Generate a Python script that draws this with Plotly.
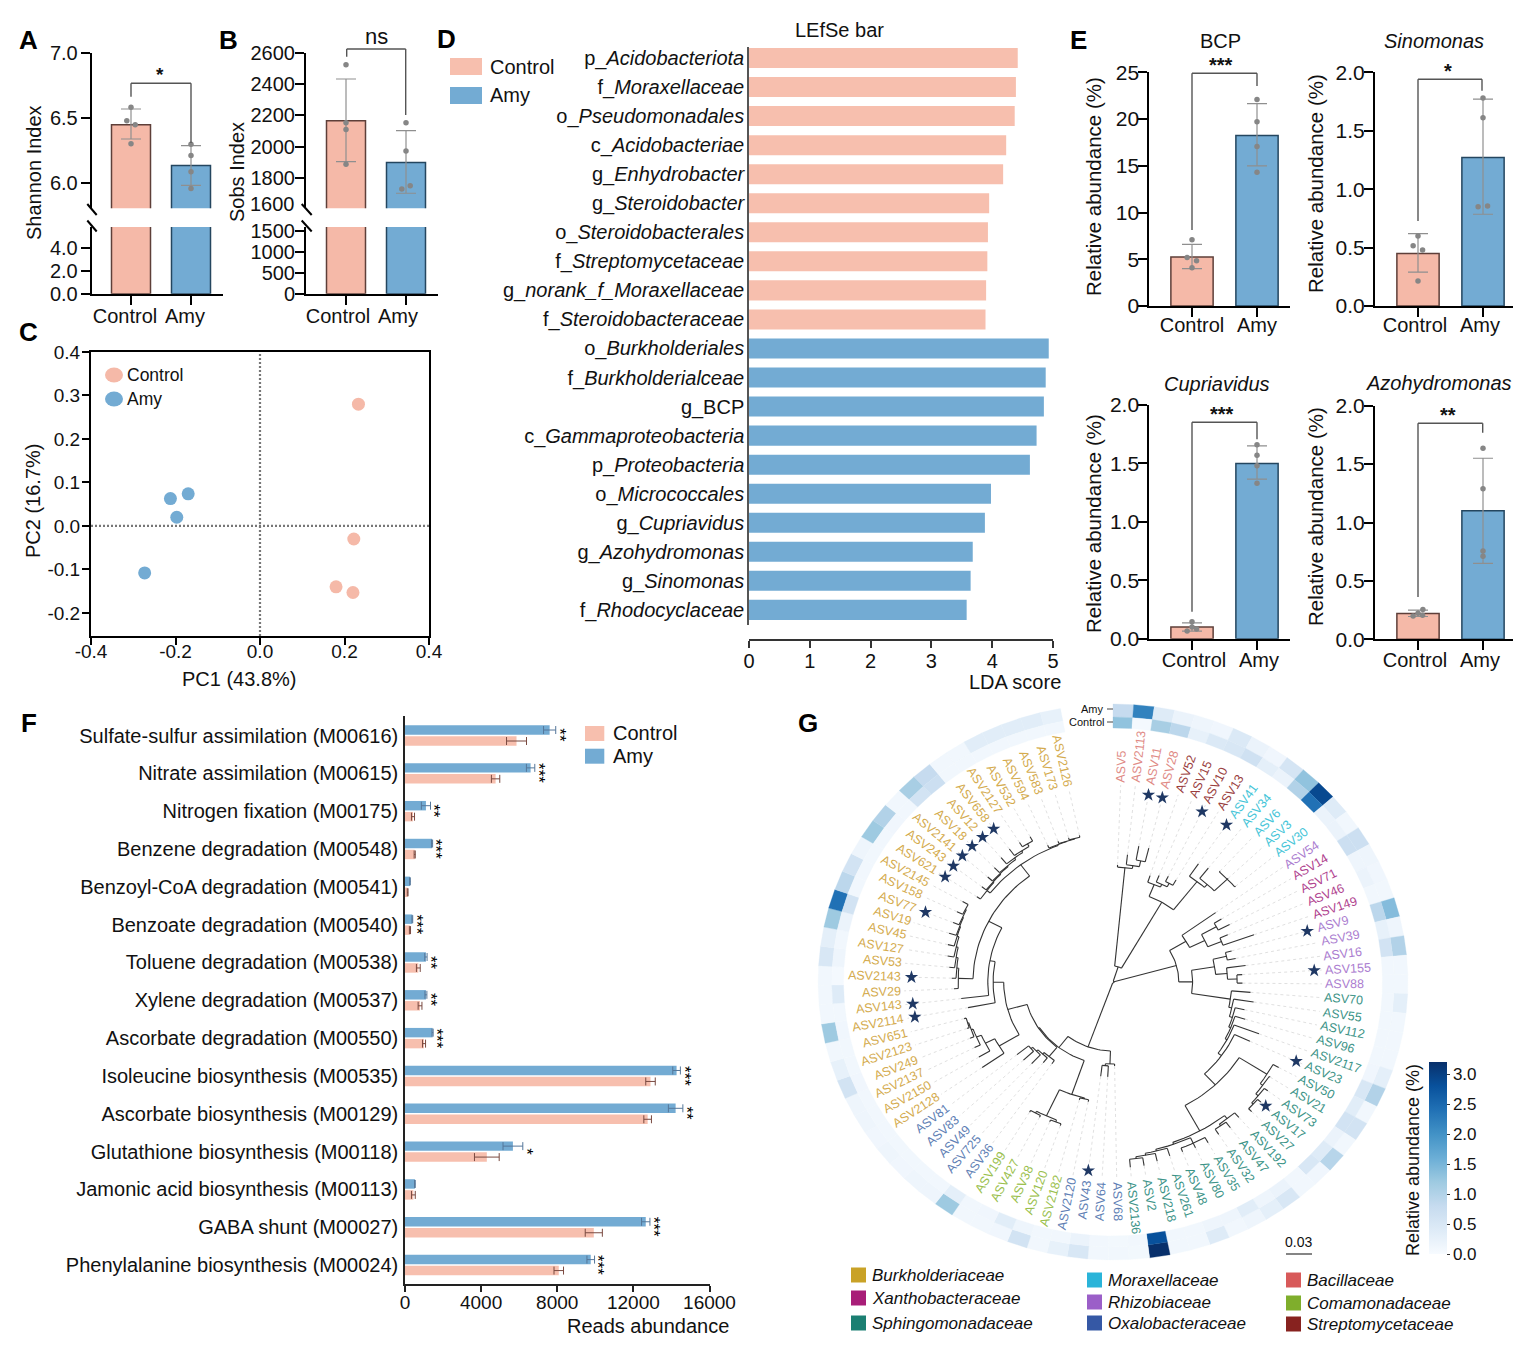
import math
import numpy as np
import plotly.graph_objects as go
from plotly.colors import sample_colorscale

W, H = 1530, 1352
FONT = "Liberation Sans"
PINK, BLUE = "#f5b9a8", "#73abd3"
PINK_EDGE, BLUE_EDGE = "#5e3f39", "#24465f"

# ---- panels A, B
groups = ["Control", "Amy"]
shannon_mean = [6.445, 6.133]
shannon_hi = [6.567, 6.285]
shannon_lo = [6.336, 5.98]
shannon_dots_control = [6.58, 6.477, 6.446, 6.30]
shannon_dots_amy = [6.295, 6.21, 6.085, 5.956]
shannon_jitter_control = [0, -0.07, 0.07, 0]
shannon_jitter_amy = [0, 0, 0, 0]

sobs_mean = [2166, 1898]
sobs_hi = [2432, 2102]
sobs_lo = [1904, 1702]
sobs_dots_control = [2523, 2153, 2110, 1888]
sobs_dots_amy = [2153, 1972, 1750, 1730]
sobs_jitter_control = [0, 0, 0, 0]
sobs_jitter_amy = [0, 0, 0.07, -0.07]

# ---- panel C
pc_control_x = [0.233, 0.222, 0.18, 0.22]
pc_control_y = [0.28, -0.03, -0.14, -0.153]
pc_amy_x = [-0.17, -0.212, -0.197, -0.273]
pc_amy_y = [0.074, 0.063, 0.02, -0.108]
pc_x_ticks = [-0.4, -0.2, 0, 0.2, 0.4]
pc_x_labels = ["-0.4", "-0.2", "0.0", "0.2", "0.4"]
pc_y_ticks = [-0.2, -0.1, 0, 0.1, 0.2, 0.3, 0.4]
pc_y_labels = ["-0.2", "-0.1", "0.0", "0.1", "0.2", "0.3", "0.4"]

# ---- panel D
lda_control_labels = ["p_<i>Acidobacteriota</i>", "f_<i>Moraxellaceae</i>", "o_<i>Pseudomonadales</i>",
                      "c_<i>Acidobacteriae</i>", "g_<i>Enhydrobacter</i>", "g_<i>Steroidobacter</i>",
                      "o_<i>Steroidobacterales</i>", "f_<i>Streptomycetaceae</i>",
                      "g_<i>norank_f_Moraxellaceae</i>", "f_<i>Steroidobacteraceae</i>"]
lda_control_values = [4.42, 4.39, 4.37, 4.23, 4.18, 3.95, 3.93, 3.92, 3.90, 3.89]
lda_amy_labels = ["o_<i>Burkholderiales</i>", "f_<i>Burkholderialceae</i>", "g_BCP",
                  "c_<i>Gammaproteobacteria</i>", "p_<i>Proteobacteria</i>", "o_<i>Micrococcales</i>",
                  "g_<i>Cupriavidus</i>", "g_<i>Azohydromonas</i>", "g_<i>Sinomonas</i>", "f_<i>Rhodocyclaceae</i>"]
lda_amy_values = [4.93, 4.88, 4.85, 4.73, 4.62, 3.98, 3.88, 3.68, 3.645, 3.58]

# ---- panel E
bcp_mean = [5.25, 18.25]
bcp_hi = [6.6, 21.65]
bcp_lo = [4.0, 15.0]
bcp_dots_control = [7.1, 5.2, 4.85, 4.1]
bcp_dots_amy = [22.1, 19.7, 17.05, 14.3]
sino_mean = [0.45, 1.27]
sino_hi = [0.62, 1.77]
sino_lo = [0.29, 0.785]
sino_dots_control = [0.6, 0.516, 0.48, 0.214]
sino_dots_amy = [1.78, 1.61, 0.855, 0.85]
cupr_mean = [0.1, 1.5]
cupr_hi = [0.135, 1.65]
cupr_lo = [0.065, 1.365]
cupr_dots_control = [0.145, 0.1, 0.083, 0.065]
cupr_dots_amy = [1.66, 1.57, 1.48, 1.33]
azo_mean = [0.22, 1.1]
azo_hi = [0.25, 1.55]
azo_lo = [0.195, 0.65]
azo_dots_control = [0.256, 0.222, 0.205, 0.2]
azo_dots_amy = [1.635, 1.29, 0.755, 0.71]
jitter_control = [0, -0.075, 0.07, 0]
jitter_amy = [0, 0, 0, 0]
jitter_sino_amy = [0, 0, 0.07, -0.075]
jitter_cupr_control = [0, 0, 0.07, -0.075]
jitter_azo_control = [0.075, 0, 0.07, -0.075]

# ---- panel F
pathways = ["Sulfate-sulfur assimilation (M00616)", "Nitrate assimilation (M00615)", "Nitrogen fixation (M00175)",
            "Benzene degradation (M00548)", "Benzoyl-CoA degradation (M00541)", "Benzoate degradation (M00540)",
            "Toluene degradation (M00538)", "Xylene degradation (M00537)", "Ascorbate degradation (M00550)",
            "Isoleucine biosynthesis (M00535)", "Ascorbate biosynthesis (M00129)", "Glutathione biosynthesis (M00118)",
            "Jamonic acid biosynthesis (M00113)", "GABA shunt (M00027)", "Phenylalanine biosynthesis (M00024)"]
reads_amy = [7600, 6600, 1100, 1420, 260, 385, 1100, 1100, 1450, 14270, 14220, 5670, 520, 12650, 9760]
reads_amy_err = [320, 220, 240, 30, 20, 20, 60, 50, 30, 200, 380, 520, 20, 220, 200]
reads_control = [5860, 4760, 420, 510, 140, 260, 700, 790, 1000, 12900, 12750, 4300, 440, 9920, 8080]
reads_control_err = [525, 220, 80, 30, 20, 30, 100, 100, 80, 250, 200, 650, 100, 450, 250]
reads_sig = ["**", "***", "**", "***", "", "***", "**", "**", "***", "***", "**", "*", "", "***", "***"]

# ---- panel G
family_names = ["Burkholderiaceae", "Xanthobacteraceae", "Sphingomonadaceae", "Moraxellaceae", "Rhizobiaceae",
                "Oxalobacteraceae", "Bacillaceae", "Comamonadaceae", "Streptomycetaceae"]
family_swatches = ["#c9a227", "#a81e78", "#1b7f72", "#2ab4d9", "#9b5fc8", "#3558a5", "#d85a5a", "#7fae2c", "#87221f"]
family_text = ["#d4ab4e", "#b0438f", "#3d9488", "#45c5d8", "#ab7dd0", "#5f7fb5", "#e08a85", "#9abf4e", "#9a3f3f"]
asv_labels = ["ASV5", "ASV2113", "ASV11", "ASV28", "ASV52", "ASV15", "ASV10", "ASV13", "ASV41", "ASV34", "ASV6",
              "ASV3", "ASV30", "ASV54", "ASV14", "ASV71", "ASV46", "ASV149", "ASV9", "ASV39", "ASV16", "ASV155",
              "ASV88", "ASV70", "ASV55", "ASV112", "ASV96", "ASV2117", "ASV23", "ASV50", "ASV21", "ASV73", "ASV17",
              "ASV27", "ASV192", "ASV47", "ASV32", "ASV35", "ASV80", "ASV48", "ASV261", "ASV218", "ASV2", "ASV2136",
              "ASV68", "ASV64", "ASV43", "ASV2120", "ASV2182", "ASV120", "ASV38", "ASV427", "ASV199", "ASV36",
              "ASV725", "ASV49", "ASV83", "ASV81", "ASV2128", "ASV2150", "ASV2137", "ASV249", "ASV2123", "ASV651",
              "ASV2114", "ASV143", "ASV29", "ASV2143", "ASV53", "ASV127", "ASV45", "ASV19", "ASV77", "ASV158",
              "ASV2145", "ASV621", "ASV243", "ASV2141", "ASV18", "ASV12", "ASV658", "ASV2127", "ASV532", "ASV594",
              "ASV583", "ASV173", "ASV2126"]
asv_family = [6]*4 + [8]*4 + [3]*5 + [4] + [1]*4 + [4]*5 + [2]*21 + [5]*4 + [7]*5 + [5]*5 + [0]*29
asv_star = [2, 3, 6, 8, 18, 21, 28, 32, 46, 64, 65, 67, 72, 75, 76, 77, 78, 79, 80]
ring_amy = [.8, 2.2, .4, .2, .15, .12, .45, .2, .12, .55, 1.3, 2.9, .4, .1, .7, .15, .12, .1, 1.4, .15, 1.0, .1, .1, .3,
            .1, .1, .1, .3, 1.0, .1, .6, .1, .95, .12, .1, .5, .3, .15, .1, .4, .1, .1, 3.2, .08, .1, .1, .5, .25, .1,
            .6, .12, .1, .1, 1.2, .15, .15, .12, .15, .12, .15, .15, .6, .25, .1, 1.2, .1, .1, .1, .5, .3, 1.2, 2.4,
            .9, .6, .15, 1.2, 1.0, .1, 1.1, .8, .1, .1, .35, .35, .35, .35, .25]
ring_control = [1.3, .05, 1.1, .9, .25, .45, .5, .65, .3, .2, 1.0, 2.4, .2, .2, .7, .15, .2, .1, .9, .25, .6, .1, .1, .1,
                .1, .1, .1, .12, .5, .35, .6, .2, .4, .5, .1, .2, .15, .35, .15, .15, .1, .1, 2.8, .1, .08, .1, .2, .1,
                .1, .15, .35, .12, .1, .3, .1, .1, .1, .1, .1, .1, .1, .12, .1, .1, .12, .1, .4, .05, .15, .1, .2, .6,
                .1, .1, .1, .1, .12, .1, .6, .7, .1, .1, .1, .1, .1, .1, .1]
# nested tree: [node radius, child, child...]; a bare number is the tip radius of the next leaf
tree_top = [16,
            [115, 117, [118, 128, [124, 138, 138]]],
            [92,
             [105, 112, [108, 115, [112, 118, 118]]],
             [128, 143, [132, 145, [149, 150, 150, 150]]]]]
tree_mid = [62,
            [80, 119, [96, [112, 120, 124], [110, 118, 141]]],
            [75,
             [97, [110, 116, 118], [108, 126, [117, 122, 122]]],
             [112, 130, [115, 134, [118, 127, [120, 130, [122, 147, [126, 142, [141,
                [172, 178, [175, 176, [178, 182, [180, 184, 184]]]],
                [170, [174, 180, [176, 183, 182]],
                 [172, [178, 184, 183, 182], [174, 182, [176, 184, [178, 186, 186]]]]]]]]]]]]]]
tree_low = [69,
            [82, 84, [84, 95, 95]],
            [83,
             [119, [120, 122, 122], [148, [150, 152, 152], [150, 152, 152]]],
             [84,
              [96, 100, [98, 104, [100, 112, [102, 115, 116]]]],
              [103,
               [125, 150, [135, 147, [140, 146, [142, 146, [143, 145, 145]]]]],
               [113, 139, [118, 144, [132,
                [146, 150, [148, 152, [150, 155, [152, 158, [154, 160, [155, 162, [156, 162, [157, 163, 163]]]]]]]],
                [146,
                 [150, 154, [151, 156, [152, 158, [153, 160, [155, 163, [157, 165, [160, 165, 165]]]]]]],
                 [147, 150, [147.5, 150, [148, 150, 150]]]]]]]]]]]
tree_root = [1, tree_top, tree_mid, tree_low]
colorbar_ticks = [0, 0.5, 1, 1.5, 2, 2.5, 3]

# ---------------------------------------------------------------- helpers
fig = go.Figure()
layout_axes = {}
shapes = []
annots = []


def fx(px):
    return px / W


def fy(py):
    return 1 - py / H


def axis(**kw):
    d = dict(showgrid=False, zeroline=False, showline=True, linecolor="black", linewidth=2, ticks="outside",
             ticklen=9, tickwidth=2, tickcolor="black", fixedrange=True, automargin=False,
             tickfont=dict(family=FONT, size=20, color="#111"), layer="above traces")
    d.update(kw)
    return d


def axes(n, x0, x1, y0, y1, xa, ya):
    s = "" if n == 1 else str(n)
    xa = dict(xa)
    ya = dict(ya)
    xa.update(domain=[fx(x0), fx(x1)], anchor="y" + s)
    ya.update(domain=[fy(y1), fy(y0)], anchor="x" + s)
    layout_axes["xaxis" + s] = xa
    layout_axes["yaxis" + s] = ya
    return "x" + s, "y" + s


def text(x, y, s, size=20, xanchor="center", angle=0, color="#111", bold=False, yanchor="middle"):
    annots.append(dict(x=fx(x), y=fy(y), xref="paper", yref="paper", text=("<b>%s</b>" % s) if bold else s,
                       showarrow=False, xanchor=xanchor, yanchor=yanchor, textangle=angle,
                       font=dict(family=FONT, size=size, color=color), borderpad=0, borderwidth=0))


def line(x0, y0, x1, y1, color="#555", width=1.4):
    shapes.append(dict(type="line", xref="paper", yref="paper", x0=fx(x0), x1=fx(x1), y0=fy(y0), y1=fy(y1),
                       line=dict(color=color, width=width), layer="above"))


def rect(x0, y0, x1, y1, color):
    shapes.append(dict(type="rect", xref="paper", yref="paper", x0=fx(x0), x1=fx(x1), y0=fy(y0), y1=fy(y1),
                       fillcolor=color, line=dict(width=0), layer="above"))


def bracket(xl, xr, top, bot_l, bot_r):
    line(xl, bot_l, xl, top)
    line(xl, top, xr, top)
    line(xr, top, xr, bot_r)


def bars(xa, ya, mean, hi=None, lo=None):
    err = None
    if hi is not None:
        err = dict(type="data", symmetric=False, array=[h - m for h, m in zip(hi, mean)],
                   arrayminus=[m - l for l, m in zip(lo, mean)], color="#8f8f8f", thickness=1.2, width=10)
    fig.add_trace(go.Bar(x=[0, 1], y=mean, width=0.65, xaxis=xa, yaxis=ya, showlegend=False, hoverinfo="skip",
                         marker=dict(color=[PINK, BLUE], line=dict(color=[PINK_EDGE, BLUE_EDGE], width=1.5)),
                         error_y=err))


def dots(xa, ya, vals, jitter, base):
    fig.add_trace(go.Scatter(x=[base + j for j in jitter], y=vals, mode="markers", xaxis=xa, yaxis=ya,
                             showlegend=False, hoverinfo="skip",
                             marker=dict(color="#868686", size=5.5, line=dict(width=0))))


def cat_axis(x0, x1, c0, c1, shift=0, standoff=0):
    s = c1 - c0
    return axis(range=[(x0 - c0) / s, (x1 - c0) / s], tickvals=[0, 1], ticktext=groups, ticklabelshift=shift,
                ticklabelstandoff=standoff)


# ---------------------------------------------------------------- A
xa_cat = cat_axis(91.7, 223, 131, 191, -6, -6)
xa, ya = axes(1, 91.7, 223, 52.7, 208.3, dict(xa_cat, visible=False),
              axis(range=[5.803, 7.0], tickvals=[6, 6.5, 7], tickformat=".1f", ticklabelstandoff=-1))
bars(xa, ya, shannon_mean, shannon_hi, shannon_lo)
dots(xa, ya, shannon_dots_control, shannon_jitter_control, 0)
dots(xa, ya, shannon_dots_amy, shannon_jitter_amy, 1)
xa, ya = axes(2, 91.7, 223, 227, 293.7, xa_cat,
              axis(range=[0, 5.8], tickvals=[0, 2, 4], tickformat=".1f", ticklabelstandoff=-1))
bars(xa, ya, shannon_mean)
line(87.3, 204, 96.7, 215, "black", 2)
line(87.3, 220.5, 96.7, 231.5, "black", 2)
bracket(131, 191, 83.3, 96.7, 143)
text(160, 74, "*", 19, bold=True)
text(34, 173, "Shannon Index", 20, angle=-90)

# ---------------------------------------------------------------- B
xb_cat = cat_axis(306, 438, 346, 406, -8, -6)
xa, ya = axes(3, 306, 438, 52.7, 208.3, dict(xb_cat, visible=False),
              axis(range=[1606, 2600], tickvals=[1800, 2000, 2200, 2400, 2600], ticklabelstandoff=-4))
bars(xa, ya, sobs_mean, sobs_hi, sobs_lo)
dots(xa, ya, sobs_dots_control, sobs_jitter_control, 0)
dots(xa, ya, sobs_dots_amy, sobs_jitter_amy, 1)
xa, ya = axes(4, 306, 438, 227, 293.7, xb_cat,
              axis(range=[0, 1588], tickvals=[0, 500, 1000, 1500], ticklabelstandoff=-4))
bars(xa, ya, sobs_mean)
text(295, 204, "1600", 20, xanchor="right")
line(301.7, 204, 311.7, 215, "black", 2)
line(301.7, 220.5, 311.7, 231.5, "black", 2)
bracket(346.7, 405.7, 49, 56.7, 115)
text(376.7, 36, "ns", 22)
text(237, 172, "Sobs Index", 20, angle=-90)

# ---------------------------------------------------------------- C
xa, ya = axes(5, 91, 429, 352, 636,
              axis(range=[-0.4, 0.4], tickvals=pc_x_ticks, ticktext=pc_x_labels, mirror=True, ticklen=7,
                   ticklabelstandoff=-10, tickfont=dict(family=FONT, size=19, color="#111")),
              axis(range=[-0.253, 0.4], tickvals=pc_y_ticks, ticktext=pc_y_labels, mirror=True,
                   ticklen=7, ticklabelstandoff=-2, tickfont=dict(family=FONT, size=19, color="#111")))
for xv, yv, col in ((pc_control_x, pc_control_y, PINK), (pc_amy_x, pc_amy_y, BLUE)):
    fig.add_trace(go.Scatter(x=xv, y=yv, mode="markers", xaxis=xa, yaxis=ya, showlegend=False, hoverinfo="skip",
                             marker=dict(color=col, size=13, line=dict(width=0))))
shapes.append(dict(type="line", xref=xa, yref=ya, x0=0, x1=0, y0=-0.253, y1=0.4,
                   line=dict(color="#777", width=2.2, dash="2px,2px")))
shapes.append(dict(type="line", xref=xa, yref=ya, x0=-0.4, x1=0.4, y0=0, y1=0,
                   line=dict(color="#777", width=2.2, dash="2px,2px")))
for py, col, name in ((375, PINK, "Control"), (399, BLUE, "Amy")):
    shapes.append(dict(type="circle", xref="paper", yref="paper", x0=fx(105), x1=fx(123), y0=fy(py + 7.5),
                       y1=fy(py - 7.5), fillcolor=col, line=dict(width=0), layer="above"))
    text(127, py, name, 17.5, xanchor="left")
text(239, 679, "PC1 (43.8%)", 20)
text(33, 501, "PC2 (16.7%)", 20, angle=-90)

# ---------------------------------------------------------------- D
lda_labels = lda_control_labels + lda_amy_labels
xa, ya = axes(6, 749, 1053, 47, 625,
              axis(range=[0, 5], tickvals=[0, 1, 2, 3, 4, 5], linewidth=1.5, linecolor="#333", tickcolor="#333",
                   ticklen=7, tickwidth=1.5, ticklabelstandoff=-4),
              axis(type="category", categoryorder="array", categoryarray=lda_labels, range=[19.52, -0.379],
                   tickmode="array", tickvals=lda_labels, ticktext=lda_labels, ticks="", linewidth=1.5,
                   linecolor="#555", ticklabelstandoff=-1))
layout_axes["xaxis6"]["anchor"] = "free"
layout_axes["xaxis6"]["position"] = fy(640)
for labs, vals, col in ((lda_control_labels, lda_control_values, "#f7bfae"), (lda_amy_labels, lda_amy_values, BLUE)):
    fig.add_trace(go.Bar(y=labs, x=vals, orientation="h", width=0.69, xaxis=xa, yaxis=ya, showlegend=False,
                         hoverinfo="skip", marker=dict(color=col, line=dict(width=0))))
text(839, 30, "LEfSe bar", 20)
text(1015, 682, "LDA score", 20)
rect(450, 58, 482, 75, "#f7bfae")
rect(450, 87, 482, 104, BLUE)
text(490, 67, "Control", 20, xanchor="left")
text(490, 95, "Amy", 20, xanchor="left")

# ---------------------------------------------------------------- E
e_specs = [
    (7, 1149.3, 1290, 72.3, 306, 1192, 1257, 25, [0, 5, 10, 15, 20, 25], "d", bcp_mean, bcp_hi, bcp_lo,
     bcp_dots_control, bcp_dots_amy, jitter_control, jitter_amy, 0, -9),
    (8, 1375, 1513, 72.3, 306, 1418, 1483, 2, [0, .5, 1, 1.5, 2], ".1f", sino_mean, sino_hi, sino_lo,
     sino_dots_control, sino_dots_amy, jitter_control, jitter_sino_amy, -3, -9),
    (9, 1149.3, 1290, 405, 638.7, 1192, 1257, 2, [0, .5, 1, 1.5, 2], ".1f", cupr_mean, cupr_hi, cupr_lo,
     cupr_dots_control, cupr_dots_amy, jitter_cupr_control, jitter_amy, 2, -7),
    (10, 1375, 1513, 405.7, 639.3, 1418, 1483, 2, [0, .5, 1, 1.5, 2], ".1f", azo_mean, azo_hi, azo_lo,
     azo_dots_control, azo_dots_amy, jitter_azo_control, jitter_amy, -3, -7),
]
for n, x0, x1, y0, y1, c0, c1, ymax, yt, fmt, m, hi, lo, dc, da, jc, ja, sh, so in e_specs:
    xa, ya = axes(n, x0, x1, y0, y1, cat_axis(x0, x1, c0, c1, sh, so),
                  axis(range=[0, ymax], tickvals=yt, tickformat=fmt, ticklabelstandoff=-5,
                       tickfont=dict(family=FONT, size=21, color="#111")))
    bars(xa, ya, m, hi, lo)
    dots(xa, ya, dc, jc, 0)
    dots(xa, ya, da, ja, 1)
bracket(1192, 1257, 73.3, 230, 86)
bracket(1418, 1482, 79.3, 221, 90.7)
bracket(1192, 1257, 422.3, 611.7, 439.3)
bracket(1418, 1482.7, 423.3, 597, 432.7)
text(1221, 65, "***", 20, bold=True)
text(1448, 71, "*", 20, bold=True)
text(1222, 414, "***", 20, bold=True)
text(1448, 415, "**", 20, bold=True)
text(1220, 41, "BCP", 20)
text(1434, 41, "<i>Sinomonas</i>", 20)
text(1217, 384, "<i>Cupriavidus</i>", 20)
text(1439, 383, "<i>Azohydromonas</i>", 20)
text(1093, 187, "Relative abundance (%)", 20.5, angle=-90)
text(1315, 184, "Relative abundance (%)", 20.5, angle=-90)
text(1093, 524, "Relative abundance (%)", 20.5, angle=-90)
text(1315, 517, "Relative abundance (%)", 20.5, angle=-90)

# ---------------------------------------------------------------- F
xa, ya = axes(11, 405, 709.5, 716, 1284,
              axis(range=[0, 16000], tickvals=[0, 4000, 8000, 12000, 16000], tickformat="d", linewidth=1.5,
                   linecolor="#222", tickcolor="#222", tickwidth=1.5, ticklen=6, ticklabelstandoff=-6,
                   tickfont=dict(family=FONT, size=19, color="#111")),
              axis(type="category", categoryorder="array", categoryarray=pathways, range=[14.5, -0.516], ticks="",
                   tickmode="array", tickvals=pathways, ticktext=pathways, linewidth=1.5, linecolor="#222",
                   ticklabelstandoff=1))
fig.add_trace(go.Bar(y=pathways, x=reads_amy, orientation="h", offset=-0.27, width=0.25, xaxis=xa, yaxis=ya,
                     showlegend=False, hoverinfo="skip", marker=dict(color=BLUE, line=dict(width=0)),
                     error_x=dict(type="data", array=reads_amy_err, color="#55779a", thickness=1, width=4)))
fig.add_trace(go.Bar(y=pathways, x=reads_control, orientation="h", offset=0.02, width=0.25, xaxis=xa, yaxis=ya,
                     showlegend=False, hoverinfo="skip", marker=dict(color="#f7bfae", line=dict(width=0)),
                     error_x=dict(type="data", array=reads_control_err, color="#7a4a40", thickness=1, width=4)))
for i, s in enumerate(reads_sig):
    if s:
        top_val = max(reads_amy[i] + reads_amy_err[i], reads_control[i] + reads_control_err[i])
        annots.append(dict(x=top_val, y=pathways[i], xref=xa, yref=ya, text=s, showarrow=False, textangle=90,
                           xanchor="left", yanchor="middle", xshift=-8, font=dict(family=FONT, size=17, color="#000")))
rect(585, 726, 604.3, 741, "#f7bfae")
rect(585, 748.7, 604.3, 763.7, BLUE)
text(613, 733, "Control", 20, xanchor="left")
text(613, 756, "Amy", 20, xanchor="left")
text(648, 1326, "Reads abundance", 20)

# ---------------------------------------------------------------- G
CX, CY, STRETCH = 1113, 982, 1.061
STEP = 4.02
gx0, gx1, gy0, gy1 = 800, 1425, 695, 1270
xa, ya = axes(12, gx0, gx1, gy0, gy1,
              dict(visible=False, range=[(gx0 - CX) / STRETCH, (gx1 - CX) / STRETCH], fixedrange=True),
              dict(visible=False, range=[CY - gy1, CY - gy0], fixedrange=True))


def leaf_theta(i):
    return 2.1 + STEP * i


def pol(r, deg):
    t = np.radians(deg)
    return r * np.sin(t), r * np.cos(t)


blues = "Blues"
for row, vals, r0, r1 in (("Amy", ring_amy, 265, 278), ("Control", ring_control, 254, 265)):
    for i, v in enumerate(vals):
        t = np.linspace(STEP * i, STEP * (i + 1), 5)
        xo, yo = pol(r1, t)
        xi, yi = pol(r0, t[::-1])
        col = sample_colorscale(blues, [min(v / 3.2, 1)])[0]
        fig.add_trace(go.Scatter(x=np.r_[xo, xi, xo[0]], y=np.r_[yo, yi, yo[0]], mode="lines", fill="toself",
                                 fillcolor=col, line=dict(color=col, width=0.3), xaxis=xa, yaxis=ya,
                                 showlegend=False, hoverinfo="skip"))

tree_x, tree_y, lead_x, lead_y = [], [], [], []
counter = [0]


def seg(r0, r1, th):
    a, b = pol(r0, th), pol(r1, th)
    tree_x.extend([a[0], b[0], None])
    tree_y.extend([a[1], b[1], None])


def arc(r, t0, t1):
    ts = np.linspace(t0, t1, max(2, int(abs(t1 - t0) / 2) + 2))
    xs, ys = pol(r, ts)
    tree_x.extend(list(xs) + [None])
    tree_y.extend(list(ys) + [None])


def walk(node, parent_r):
    if not isinstance(node, list):
        th = leaf_theta(counter[0])
        counter[0] += 1
        seg(parent_r, node, th)
        a, b = pol(node, th), pol(197, th)
        lead_x.extend([a[0], b[0], None])
        lead_y.extend([a[1], b[1], None])
        return th
    r = node[0]
    ths = [walk(c, r) for c in node[1:]]
    th = (ths[0] + ths[-1]) / 2
    arc(r, ths[0], ths[-1])
    seg(parent_r, r, th)
    return th


walk(tree_root, 0)
fig.add_trace(go.Scatter(x=lead_x, y=lead_y, mode="lines", xaxis=xa, yaxis=ya, showlegend=False, hoverinfo="skip",
                         line=dict(color="#d8d8d8", width=0.8, dash="dot")))
fig.add_trace(go.Scatter(x=tree_x, y=tree_y, mode="lines", xaxis=xa, yaxis=ya, showlegend=False, hoverinfo="skip",
                         line=dict(color="#333", width=1.1)))
sx, sy = pol(190, np.array([leaf_theta(i) for i in asv_star]))
fig.add_trace(go.Scatter(x=sx, y=sy, mode="markers", xaxis=xa, yaxis=ya, showlegend=False, hoverinfo="skip",
                         marker=dict(symbol="star", size=10, color="#1f3864", line=dict(width=0))))

LABEL = 12.5
for i, lab in enumerate(asv_labels):
    th = leaf_theta(i)
    digits = len(lab) - 3
    w = LABEL * (2.0 + 0.556 * digits)
    x_in, y_in = pol(200, th)
    dx, dy = math.sin(math.radians(th)) * STRETCH, math.cos(math.radians(th))
    n = math.hypot(dx, dy)
    dx, dy = dx / n, dy / n
    px_x = x_in * STRETCH + dx * w / 2
    px_y = y_in + dy * w / 2
    ang = -math.degrees(math.atan2(dy, dx))
    if ang > 90:
        ang -= 180
    elif ang < -90:
        ang += 180
    annots.append(dict(x=px_x / STRETCH, y=px_y, xref=xa, yref=ya, text=lab, showarrow=False, textangle=ang,
                       xanchor="center", yanchor="middle",
                       font=dict(family=FONT, size=LABEL, color=family_text[asv_family[i]])))

text(1104, 709, "Amy", 11, xanchor="right")
text(1104, 722, "Control", 11, xanchor="right")
line(1107, 709, 1113, 709, "#444", 1)
line(1107, 722, 1113, 722, "#444", 1)

legend_pos = [(851, 1275), (851, 1298), (851, 1323), (1087, 1280), (1087, 1302), (1087, 1323), (1286, 1280),
              (1286, 1303), (1286, 1324)]
for (lx, ly), name, col in zip(legend_pos, family_names, family_swatches):
    rect(lx, ly - 7.5, lx + 15, ly + 7.5, col)
    text(lx + 21, ly, "<i>%s</i>" % name, 17, xanchor="left")

line(1286, 1254, 1312, 1254, "#333", 1.2)
text(1298, 1242, "0.03", 14)
text(1413, 1160, "Relative abundance (%)", 18, angle=-90)
fig.add_trace(go.Scatter(x=[None], y=[None], mode="markers", xaxis=xa, yaxis=ya, showlegend=False, hoverinfo="skip",
                         marker=dict(color=[0], colorscale="Blues", cmin=0, cmax=3.2, showscale=True,
                                     colorbar=dict(x=fx(1429), xanchor="left", y=fy(1254), yanchor="bottom",
                                                   len=192 / H, lenmode="fraction", thickness=18,
                                                   thicknessmode="pixels", xpad=0, ypad=0, outlinewidth=0,
                                                   ticks="outside", ticklen=3, tickwidth=1, tickcolor="#333",
                                                   tickvals=colorbar_ticks, tickformat=".1f",
                                                   tickfont=dict(family=FONT, size=17, color="#111")))))

# ---------------------------------------------------------------- panel letters
for s, lx, ly in (("A", 28, 40), ("B", 228, 40), ("C", 29, 332), ("D", 446, 39), ("E", 1078, 40), ("F", 29, 723),
                  ("G", 808, 723)):
    text(lx, ly, s, 26, bold=True, color="#000")

fig.update_layout(width=W, height=H, template="none", margin=dict(l=0, r=0, t=0, b=0, pad=0, autoexpand=False),
                  paper_bgcolor="white", plot_bgcolor="rgba(0,0,0,0)", barmode="overlay", showlegend=False,
                  font=dict(family=FONT, color="#111"), shapes=shapes, annotations=annots, **layout_axes)
fig.write_html("out.html", post_script="document.body.style.margin='0';", config=dict(displayModeBar=False))
